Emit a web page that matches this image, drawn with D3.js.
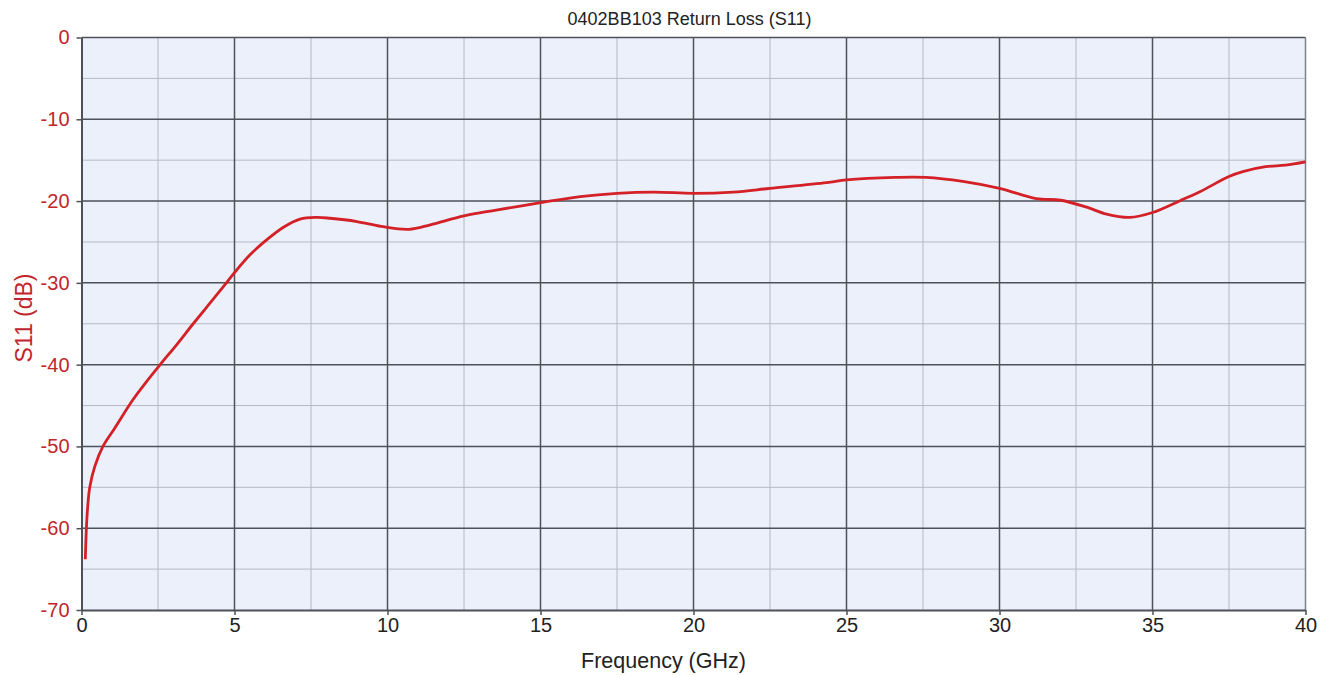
<!DOCTYPE html>
<html>
<head>
<meta charset="utf-8">
<script src="https://cdn.jsdelivr.net/npm/d3@7"></script>
<style>
  body { margin: 0; background: #fff; }
  svg { display: block; font-family: "Liberation Sans", Arial, sans-serif; }
</style>
</head>
<body>
<div id="chart"></div>
<script>
"use strict";

var freqGHz = [0.125, 0.16, 0.2, 0.27, 0.43, 0.7, 1.08, 1.68, 2.1, 2.57, 3.1, 3.65,
  4.15, 4.63, 5.0, 5.5, 6.0, 6.6, 7.14, 7.69, 8.12, 9.0, 9.8, 10.7, 11.4, 12.5, 13.55,
  15.0, 16.3, 17.5, 18.7, 20.0, 21.3, 22.5, 24.35, 25.0, 26.6, 27.6, 28.8, 30.0, 31.2,
  32.0, 32.85, 33.5, 34.26, 35.0, 35.9, 36.55, 37.5, 37.95, 38.7, 39.35, 40.0];
var s11dB = [-63.8, -60.0, -57.5, -55.0, -52.5, -50.0, -47.8, -44.3, -42.2, -40.0, -37.6, -35.0,
  -32.7, -30.5, -28.75, -26.6, -24.9, -23.2, -22.2, -22.0, -22.1, -22.5, -23.1, -23.45, -22.9, -21.8, -21.1,
  -20.2, -19.45, -19.05, -18.9, -19.05, -18.9, -18.45, -17.75, -17.4, -17.1, -17.1, -17.6, -18.45, -19.7,
  -19.9, -20.75, -21.6, -22.0, -21.4, -19.95, -18.85, -17.0, -16.4, -15.8, -15.6, -15.2];

var xMajor = [0, 5, 10, 15, 20, 25, 30, 35, 40];
var xMinor = [2.5, 7.5, 12.5, 17.5, 22.5, 27.5, 32.5, 37.5];
var yMajor = [0, -10, -20, -30, -40, -50, -60, -70];
var yMinor = [-5, -15, -25, -35, -45, -55, -65];

var width = 1328, height = 675;
var margin = {top: 37.5, right: 22.5, bottom: 65, left: 81.5};

var svg = d3.select("#chart").append("svg")
    .attr("width", width)
    .attr("height", height);

var x = d3.scaleLinear().domain([0, 40]).range([margin.left, width - margin.right]);
var y = d3.scaleLinear().domain([-70, 0]).range([height - margin.bottom, margin.top]);

// plot background
svg.append("rect")
    .attr("x", x(0)).attr("y", y(0))
    .attr("width", x(40) - x(0)).attr("height", y(-70) - y(0))
    .attr("fill", "#ebf0fb");

var grid = svg.append("g").attr("class", "grid");

grid.selectAll(".vminor").data(xMinor).join("line")
    .attr("x1", d => x(d)).attr("x2", d => x(d))
    .attr("y1", y(0)).attr("y2", y(-70))
    .attr("stroke", "#b4bac6").attr("stroke-width", 1);
grid.selectAll(".hminor").data(yMinor).join("line")
    .attr("y1", d => y(d)).attr("y2", d => y(d))
    .attr("x1", x(0)).attr("x2", x(40))
    .attr("stroke", "#b4bac6").attr("stroke-width", 1);

grid.selectAll(".vmajor").data(xMajor.slice(1, -1)).join("line")
    .attr("x1", d => x(d)).attr("x2", d => x(d))
    .attr("y1", y(0)).attr("y2", y(-70))
    .attr("stroke", "#4d5159").attr("stroke-width", 1.5);
grid.selectAll(".hmajor").data(yMajor.slice(0, -1)).join("line")
    .attr("y1", d => y(d)).attr("y2", d => y(d))
    .attr("x1", x(0)).attr("x2", x(40))
    .attr("stroke", "#4d5159").attr("stroke-width", 1.5);

// right border
svg.append("line")
    .attr("x1", x(40)).attr("x2", x(40))
    .attr("y1", y(0)).attr("y2", y(-70))
    .attr("stroke", "#7d828c").attr("stroke-width", 1.5);

// axes
var xAxis = svg.append("g")
    .attr("transform", "translate(0," + y(-70) + ")")
    .call(d3.axisBottom(x).tickValues(xMajor).tickSize(5).tickPadding(3).tickSizeOuter(0));
xAxis.select(".domain").attr("stroke", "#4d5159").attr("stroke-width", 2);
xAxis.selectAll(".tick line").attr("stroke", "#4d5159").attr("stroke-width", 1.5);
xAxis.selectAll(".tick text")
    .attr("fill", "#222").attr("font-size", 20);

var yAxis = svg.append("g")
    .attr("transform", "translate(" + x(0) + ",0)")
    .call(d3.axisLeft(y).tickValues(yMajor).tickSize(5).tickPadding(7).tickSizeOuter(0)
      .tickFormat(d => String(d)));
yAxis.select(".domain").attr("stroke", "#4d5159").attr("stroke-width", 2);
yAxis.selectAll(".tick line").attr("stroke", "#4d5159").attr("stroke-width", 1.5);
yAxis.selectAll(".tick text")
    .attr("fill", "#c0262c").attr("font-size", 20);

// trace
var points = freqGHz.map((f, i) => [f, s11dB[i]]);
var line = d3.line()
    .x(d => x(d[0]))
    .y(d => y(d[1]))
    .curve(d3.curveCatmullRom.alpha(0.5));

svg.append("path")
    .datum(points)
    .attr("fill", "none")
    .attr("stroke", "#d42027")
    .attr("stroke-width", 2.8)
    .attr("stroke-linejoin", "round")
    .attr("d", line);

// titles
svg.append("text")
    .attr("x", (x(0) + x(40)) / 2 - 4).attr("y", 25)
    .attr("text-anchor", "middle")
    .attr("font-size", 18).attr("fill", "#222")
    .text("0402BB103 Return Loss (S11)");

svg.append("text")
    .attr("x", (x(0) + x(40)) / 2 - 30).attr("y", 668)
    .attr("text-anchor", "middle")
    .attr("font-size", 21.5).attr("fill", "#222")
    .text("Frequency (GHz)");

svg.append("text")
    .attr("transform", "translate(32,318) rotate(-90)")
    .attr("text-anchor", "middle")
    .attr("font-size", 23).attr("fill", "#c0262c")
    .text("S11 (dB)");
</script>
</body>
</html>
